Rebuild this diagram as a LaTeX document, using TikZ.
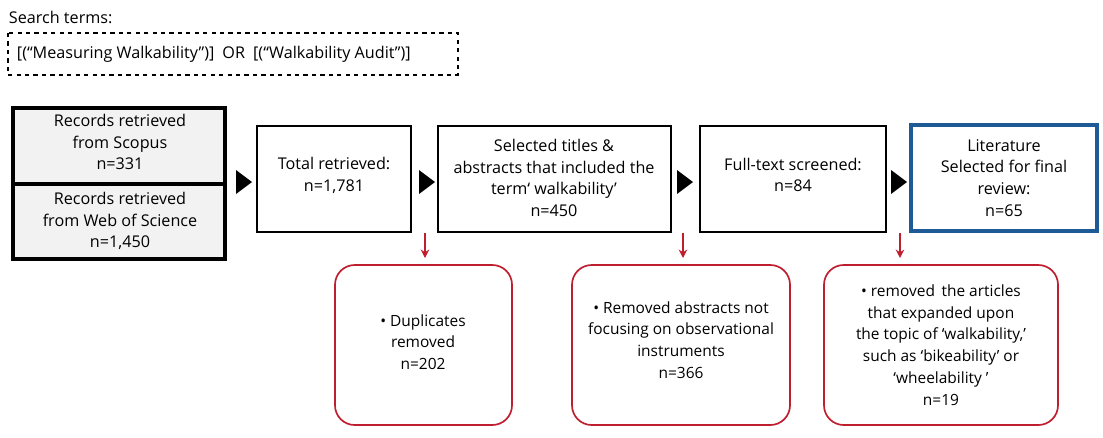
\documentclass[tikz,border=0pt]{standalone}
\usepackage{fontspec}
\setmainfont{Open Sans}
\usetikzlibrary{arrows.meta,calc}
\begin{document}
\begin{tikzpicture}[x=0.025cm,y=-0.025cm,
  txt/.style={font=\fontsize{11.5}{15.5}\selectfont,align=center},
  rtxt/.style={font=\fontsize{11}{15.5}\selectfont,align=center},
  rbox/.style={draw={rgb,255:red,190;green,30;blue,45},line width=1.2pt,rounded corners=14pt},
  rarr/.style={draw={rgb,255:red,190;green,30;blue,45},line width=1pt,-{Stealth[length=6pt,width=6pt]}}]
\useasboundingbox (0,0) rectangle (1103,437);
\node[txt,anchor=west] (st) at (4,17) {Search terms:};
\draw[dashed,line width=1pt] (8,33) rectangle (458,75);
\node[txt,anchor=west] (tt) at (12,54) {[(“Measuring Walkability”)]\enspace OR\enspace [(“Walkability Audit”)]};
% left boxes
\fill[gray!10] (13,108) rectangle (225,259);
\node[txt] (s1) at (120,142) {Records retrieved\\from Scopus\\n=331};
\node[txt] (s2) at (120,221) {Records retrieved\\from Web of Science\\n=1,450};
\draw[line width=2.5pt] (13,108) rectangle (225,259);
\draw[line width=2.5pt] (13,184) -- (225,184);
% boxes
\draw[line width=1.2pt] (257,126) rectangle (411,232);
\node[txt] (b2) at (334,175) {Total retrieved:\\n=1,781};
\draw[line width=1.2pt] (438,126) rectangle (671,232);
\node[txt] (b3) at (554,178) {Selected titles \&\\abstracts that included the\\term‘ walkability’\\n=450};
\draw[line width=1.2pt] (700,126) rectangle (886,232);
\node[txt] (b4) at (793,175) {Full-text screened:\\n=84};
\draw[line width=2.2pt,draw={rgb,255:red,30;green,90;blue,150}] (911,125) rectangle (1097,231);
\node[txt] (b5) at (1004,178) {Literature\\Selected for final\\review:\\n=65};
% triangles
\foreach \x in {236,419,677,891}{\fill (\x,170) -- (\x+16,182) -- (\x,194) -- cycle;}
% red boxes
\draw[rbox] (335,265) rectangle (512,425);
\node[rtxt] (r1) at (423,342) {\textbullet\ Duplicates\\removed\\n=202};
\draw[rbox] (572,265) rectangle (790,425);
\node[rtxt] (r2) at (681,340) {\textbullet\ Removed abstracts not\\focusing on observational\\instruments\\n=366};
\draw[rbox] (824,265) rectangle (1058,425);
\node[rtxt] (r3) at (941,345) {\textbullet\ removed\, the articles\\that expanded upon\\the topic of ‘walkability,’\\such as ‘bikeability’ or\\‘wheelability ’\\n=19};
\coordinate (a1) at (425,233); \coordinate (e1) at (425,258);
\coordinate (a2) at (683,233); \coordinate (e2) at (683,258);
\coordinate (a3) at (900,233); \coordinate (e3) at (900,258);
\draw[rarr] (a1) -- (e1);
\draw[rarr] (a2) -- (e2);
\draw[rarr] (a3) -- (e3);
\end{tikzpicture}
\end{document}
